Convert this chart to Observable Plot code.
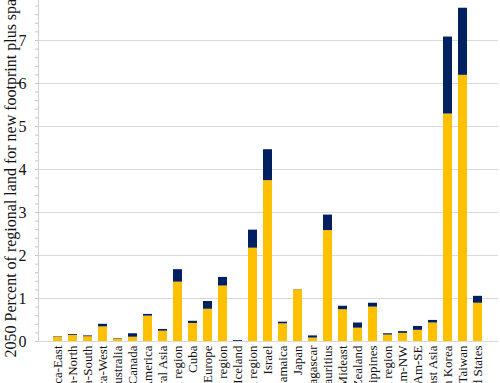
<!DOCTYPE html>
<html>
<head>
<meta charset="utf-8">
<script src="https://cdn.jsdelivr.net/npm/d3@7"></script>
<script src="https://cdn.jsdelivr.net/npm/@observablehq/plot@0.6"></script>
<style>
  html, body { margin: 0; padding: 0; background: #fff; }
  #chart { width: 500px; height: 383px; overflow: hidden; }
  #chart svg text { font-family: 'Liberation Serif', 'Times New Roman', serif; }
</style>
</head>
<body>
<div id="chart"></div>
<script>
const regions = [
  "Africa-East", "Africa-North", "Africa-South", "Africa-West", "Australia",
  "Canada", "Central America", "Central Asia", "China region", "Cuba",
  "Eastern Europe", "EU region", "Iceland", "India region", "Israel",
  "Jamaica", "Japan", "Madagascar", "Mauritius", "Mideast",
  "New Zealand", "Philippines", "Russia region", "South Am-NW", "South Am-SE",
  "Southeast Asia", "South Korea", "Taiwan", "United States"
];
const footprint = [
  0.10, 0.14, 0.11, 0.34, 0.06,
  0.10, 0.59, 0.24, 1.38, 0.42,
  0.75, 1.29, 0.00, 2.17, 3.74,
  0.41, 1.20, 0.08, 2.58, 0.74,
  0.31, 0.80, 0.15, 0.19, 0.26,
  0.43, 5.29, 6.19, 0.89
];
const space = [
  0.01, 0.02, 0.02, 0.06, 0.01,
  0.08, 0.04, 0.04, 0.29, 0.05,
  0.18, 0.20, 0.02, 0.42, 0.72,
  0.04, 0.005, 0.05, 0.36, 0.08,
  0.12, 0.09, 0.03, 0.04, 0.09,
  0.06, 1.79, 1.56, 0.16
];
const seriesNames = ["Footprint", "Space"];
const seriesColors = ["#FFC000", "#002060"];
const yTicks = [0, 1, 2, 3, 4, 5, 6, 7];
const yTitle = "2050 Percent of regional land for new footprint plus space";

const rows = [];
regions.forEach((r, i) => {
  rows.push({region: r, series: seriesNames[0], value: footprint[i]});
  rows.push({region: r, series: seriesNames[1], value: space[i]});
});

const serif = "'Liberation Serif', 'Times New Roman', serif";

const chart = Plot.plot({
  width: 500,
  height: 383,
  marginLeft: 38,
  marginRight: 2,
  marginTop: 0,
  marginBottom: 42,
  style: {fontFamily: serif, fontSize: "15px", color: "#000", background: "#fff"},
  x: {domain: regions, paddingInner: 0.37, paddingOuter: 0.185, label: null},
  y: {domain: [0, 7.93], label: null},
  color: {domain: seriesNames, range: seriesColors},
  marks: [
    Plot.gridY(yTicks, {stroke: "#d9d9d9", strokeOpacity: 1, strokeWidth: 1}),
    Plot.frame({anchor: "left", stroke: "#d0d0d0"}),
    Plot.axisY(d3.range(0, 7.95, 0.2), {tickSize: 3, text: null, stroke: "#c8c8c8", strokeOpacity: 1}),
    Plot.axisY(yTicks, {tickSize: 0, tickPadding: 12, fontSize: 16, fontFamily: serif, fill: "#111", label: yTitle, labelAnchor: "center", labelOffset: 34, labelArrow: false}),
    Plot.axisX({tickRotate: -90, tickSize: 0, tickPadding: 4, fontSize: 13, fontFamily: serif, fill: "#111", label: null}),
    Plot.barY(rows, Plot.stackY({x: "region", y: "value", fill: "series", order: seriesNames}))
  ]
});
document.getElementById("chart").appendChild(chart);
</script>
</body>
</html>
